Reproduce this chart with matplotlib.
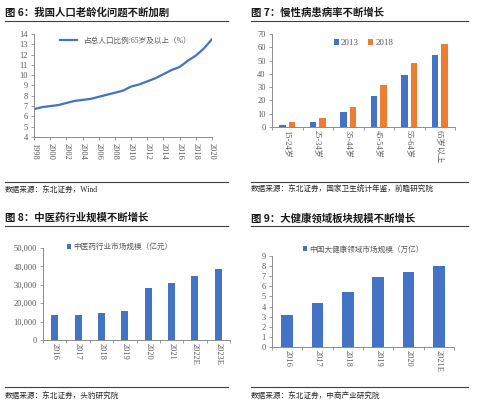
import matplotlib.pyplot as plt
from matplotlib.lines import Line2D
from matplotlib.ticker import FuncFormatter

plt.rcParams['font.family'] = ['Liberation Serif', 'Noto Sans CJK SC']

# ---- data ----
years = list(range(1998, 2021))
aged_share = [6.7, 6.9, 7.0, 7.1, 7.3, 7.5, 7.6, 7.7, 7.9, 8.1, 8.3, 8.5,
              8.9, 9.1, 9.4, 9.7, 10.1, 10.5, 10.8, 11.4, 11.9, 12.6, 13.5]

age_groups = ['15-24岁', '25-34岁', '35-44岁', '45-54岁', '55-64岁', '65岁以上']
chronic_2013 = [1.3, 3.5, 11.5, 23.5, 38.8, 54.0]
chronic_2018 = [3.5, 7.0, 15.0, 31.3, 48.4, 62.3]

tcm_years = ['2016', '2017', '2018', '2019', '2020', '2021', '2022E', '2023E']
tcm_size = [13800, 13500, 14800, 16000, 28000, 31200, 34800, 38800]

health_years = ['2016', '2017', '2018', '2019', '2020', '2021E']
health_size = [3.2, 4.4, 5.4, 6.9, 7.4, 8.0]

BLUE = '#4472C4'
ORANGE = '#ED7D31'
GRAY = '#595959'
W, H = 500, 409

fig = plt.figure(figsize=(5, 4.09), dpi=100)


def px_axes(x0, x1, ytop, ybot):
    return fig.add_axes([x0 / W, 1 - ybot / H, (x1 - x0) / W, (ybot - ytop) / H])


def hline(x0, x1, y, lw=0.8, color='#404040'):
    fig.add_artist(Line2D([x0 / W, x1 / W], [1 - y / H] * 2, transform=fig.transFigure,
                          color=color, lw=lw))


def ftext(x, y, s, **kw):
    fig.text(x / W, 1 - y / H, s, va='center', ha='left', **kw)


def style(ax):
    for s in ['top', 'right']:
        ax.spines[s].set_visible(False)
    for s in ['left', 'bottom']:
        ax.spines[s].set_color('#8c8c8c')
        ax.spines[s].set_linewidth(0.7)
    ax.tick_params(colors=GRAY, labelsize=6, length=2.5, width=0.6, pad=2)
    ax.tick_params(axis='both', color='#8c8c8c')


# titles, rules and sources
titles = [(5, 13, '图 6：我国人口老龄化问题不断加剧'),
          (251, 13, '图 7：慢性病患病率不断增长'),
          (5, 218, '图 8：中医药行业规模不断增长'),
          (251, 218, '图 9：大健康领域板块规模不断增长')]
for x, y, t in titles:
    ftext(x, y, t, fontsize=7.5, fontweight='bold', color='#1a1a1a',
          family=['Noto Sans CJK SC'])
hline(5, 228, 21)
hline(251, 468, 21)
hline(5, 228, 226)
hline(251, 468, 226)
hline(5, 228, 182)
hline(251, 468, 182)
hline(5, 228, 387)
hline(251, 468, 387)

sources = [(5, 190, '数据来源：东北证券，Wind'),
           (251, 190, '数据来源：东北证券，国家卫生统计年鉴，前瞻研究院'),
           (5, 396, '数据来源：东北证券，头豹研究院'),
           (251, 396, '数据来源：东北证券，中商产业研究院')]
for x, y, t in sources:
    ftext(x, y, t, fontsize=5.5, color='#262626')

# ---- panel 6: line ----
ax1 = px_axes(34, 212, 34, 137)
ax1.plot(years, aged_share, color=BLUE, lw=1.6, label='占总人口比例:65岁及以上（%）')
ax1.set_xlim(1998, 2020)
ax1.set_ylim(4, 14)
ax1.set_yticks(range(4, 15))
ax1.set_xticks(range(1998, 2021, 2))
ax1.set_xticklabels([str(y) for y in range(1998, 2021, 2)], rotation=270)
style(ax1)
ax1.legend(loc='upper left', bbox_to_anchor=(0.11, 1.04), frameon=False, fontsize=5.5,
           handlelength=2.2, labelcolor=GRAY)

# ---- panel 7: grouped bars ----
ax2 = px_axes(272, 455, 34, 127)
xs = list(range(len(age_groups)))
ax2.bar([x - 0.155 for x in xs], chronic_2013, width=0.22, color=BLUE, label='2013')
ax2.bar([x + 0.155 for x in xs], chronic_2018, width=0.22, color=ORANGE, label='2018')
ax2.set_xlim(-0.5, len(age_groups) - 0.5)
ax2.set_ylim(0, 70)
ax2.set_yticks(range(0, 71, 10))
ax2.set_xticks(xs)
ax2.set_xticklabels(age_groups, rotation=270)
ax2.set_xticks([x - 0.5 for x in range(len(age_groups) + 1)], minor=True)
style(ax2)
ax2.tick_params(axis='x', which='major', length=0)
ax2.tick_params(axis='x', which='minor', length=2.5, color='#8c8c8c')
ax2.legend(loc='upper center', bbox_to_anchor=(0.5, 1.03), ncol=2, frameon=False,
           fontsize=6.5, handlelength=0.6, handleheight=0.6, columnspacing=1.0,
           handletextpad=0.2, labelcolor=GRAY)

# ---- panel 8: bars ----
ax3 = px_axes(43, 230, 248, 340)
xs = list(range(len(tcm_years)))
ax3.bar(xs, tcm_size, width=0.3, color=BLUE, label='中医药行业市场规模（亿元）')
ax3.set_xlim(-0.5, len(tcm_years) - 0.5)
ax3.set_ylim(0, 50000)
ax3.set_yticks(range(0, 50001, 10000))
ax3.yaxis.set_major_formatter(FuncFormatter(lambda v, p: f'{int(v):,}'))
ax3.set_xticks(xs)
ax3.set_xticklabels(tcm_years, rotation=270)
ax3.set_xticks([x - 0.5 for x in range(len(tcm_years) + 1)], minor=True)
style(ax3)
ax3.tick_params(axis='x', which='major', length=0)
ax3.tick_params(axis='x', which='minor', length=2.5, color='#8c8c8c')
ax3.legend(loc='upper left', bbox_to_anchor=(0.09, 1.13), frameon=False, fontsize=5.5,
           handlelength=0.6, handleheight=0.6, handletextpad=0.3, labelcolor=GRAY)

# ---- panel 9: bars ----
ax4 = px_axes(272, 454, 256, 347)
xs = list(range(len(health_years)))
ax4.bar(xs, health_size, width=0.38, color=BLUE, label='中国大健康领域市场规模（万亿）')
ax4.set_xlim(-0.5, len(health_years) - 0.5)
ax4.set_ylim(0, 9)
ax4.set_yticks(range(0, 10))
ax4.set_xticks(xs)
ax4.set_xticklabels(health_years, rotation=270)
ax4.set_xticks([x - 0.5 for x in range(len(health_years) + 1)], minor=True)
style(ax4)
ax4.tick_params(axis='x', which='major', length=0)
ax4.tick_params(axis='x', which='minor', length=2.5, color='#8c8c8c')
ax4.legend(loc='upper left', bbox_to_anchor=(0.13, 1.19), frameon=False, fontsize=5.5,
           handlelength=0.6, handleheight=0.6, handletextpad=0.3, labelcolor=GRAY)

fig.savefig('out.png', dpi=100)
